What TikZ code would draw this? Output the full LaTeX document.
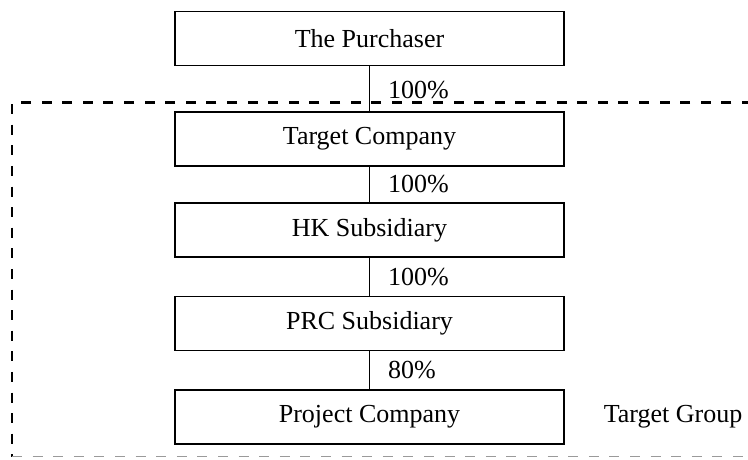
\documentclass[tikz,border=0pt]{standalone}
\usepackage{fontspec}
\setmainfont{Liberation Serif}
\usetikzlibrary{positioning}
\definecolor{framegray}{HTML}{9A9A9A}

\begin{document}
\begin{tikzpicture}[
    x=1pt, y=-1pt,
    entity/.style={rectangle, draw=black, line width=1.1pt, minimum width=389pt, minimum height=54pt, inner sep=0pt, font=\fontsize{26}{30}\selectfont},
    share/.style={right, inner sep=0pt, xshift=18pt, font=\fontsize{26}{30}\selectfont},
    link/.style={draw=black, line width=1.1pt},
    groupline/.style={line width=2.4pt, dash pattern=on 10pt off 10.6pt},
    grouplow/.style={draw=framegray, line width=1.6pt, dash pattern=on 10pt off 10.6pt}
  ]
    \useasboundingbox (0,0) rectangle (748,459);

    \node[entity] (purchaser) at (369.5,38.5) {The Purchaser};
    \node[entity] (target) at (369.5,139) {Target Company};
    \node[entity] (hk) at (369.5,230) {HK Subsidiary};
    \node[entity] (prc) at (369.5,323.5) {PRC Subsidiary};
    \node[entity] (project) at (369.5,417) {Project Company};
    \node[right=39pt of project, inner sep=0pt, font=\fontsize{26}{30}\selectfont] (group) {Target Group};

    \coordinate (gtr) at (752,102.5);
    \coordinate (gtl) at (12,102.5);
    \coordinate (gbl) at (12,456.5);
    \coordinate (gbr) at (752,456.5);

    \draw[link] (purchaser.south) -- node[share, yshift=-1.5pt]{100\%} (target.north);
    \draw[link] (target.south) -- node[share]{100\%} (hk.north);
    \draw[link] (hk.south) -- node[share]{100\%} (prc.north);
    \draw[link] (prc.south) -- node[share]{80\%} (project.north);

    \draw[groupline] (gtr) -- (gtl) -- (gbl);
    \draw[grouplow] (gbl) -- (gbr);
  \end{tikzpicture}
\end{document}
